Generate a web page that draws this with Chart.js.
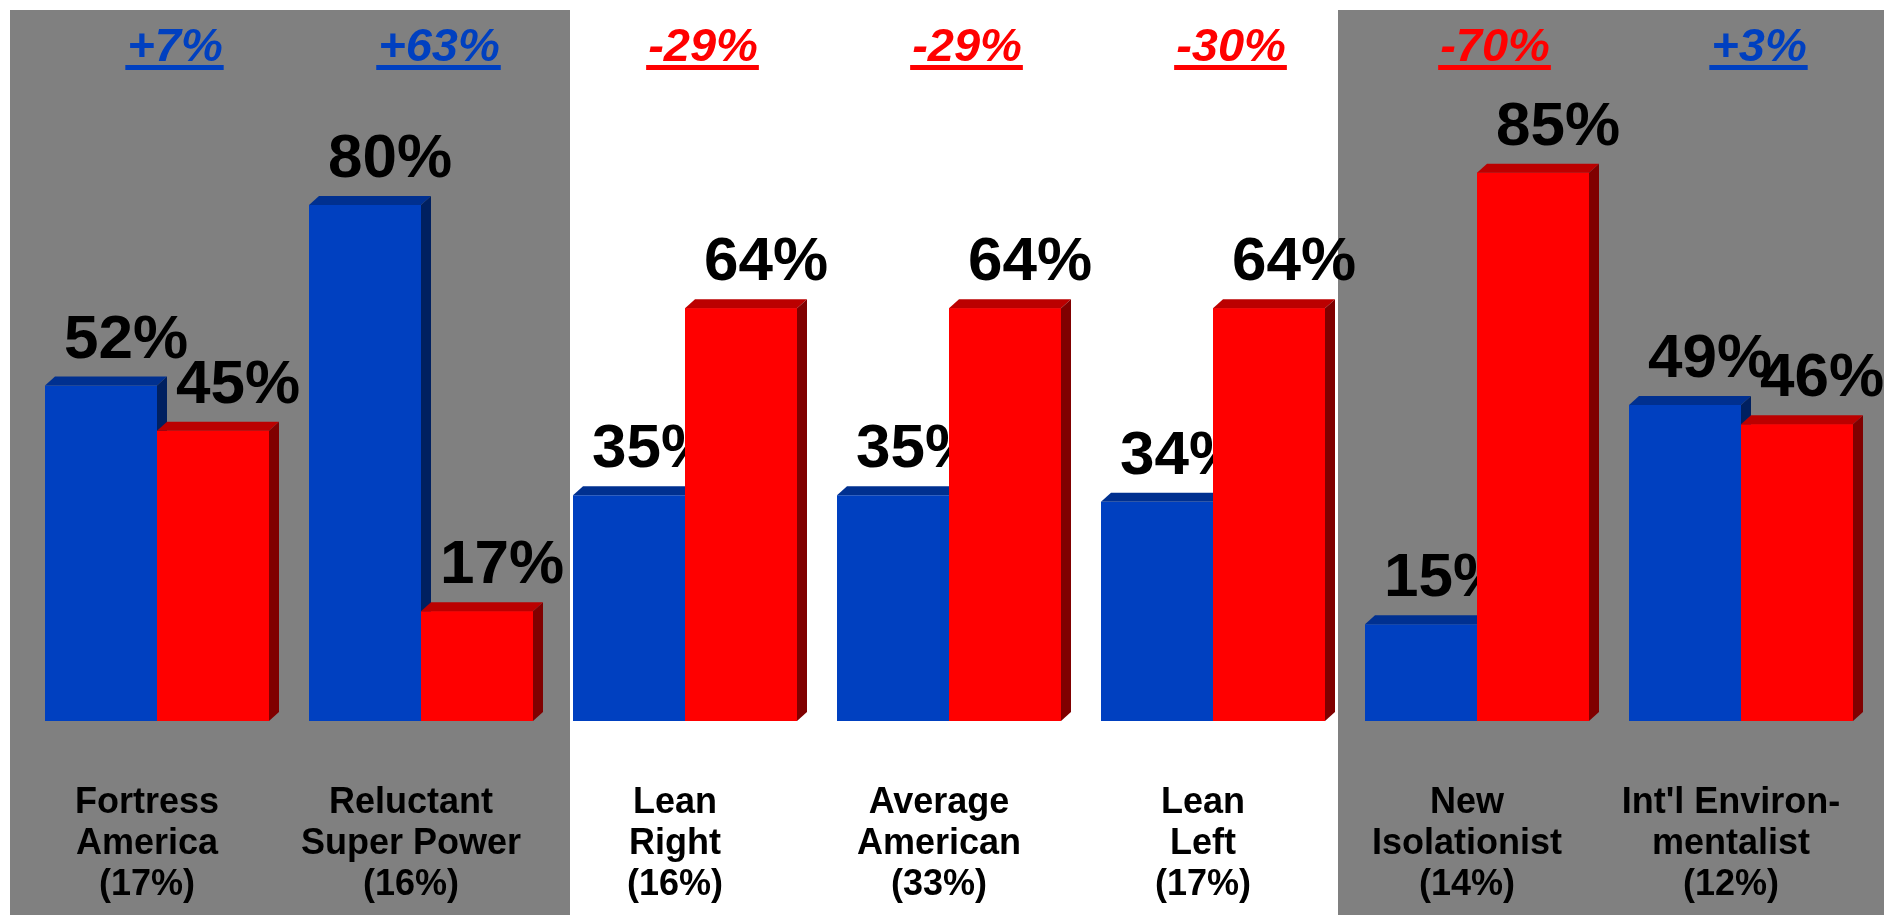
<!DOCTYPE html>
<html>
<head>
<meta charset="utf-8">
<script src="https://cdn.jsdelivr.net/npm/chart.js@4/dist/chart.umd.min.js"></script>
<style>
  html, body { margin: 0; padding: 0; background: #fff; }
  #wrap { width: 1884px; height: 915px; position: relative; }
</style>
</head>
<body>
<div id="wrap"><canvas id="barChart"></canvas></div>
<script>
// segments, with their share of the public in brackets
const groupLabels = [
  ['Fortress', 'America', '(17%)'],
  ['Reluctant', 'Super Power', '(16%)'],
  ['Lean', 'Right', '(16%)'],
  ['Average', 'American', '(33%)'],
  ['Lean', 'Left', '(17%)'],
  ['New', 'Isolationist', '(14%)'],
  ["Int'l Environ-", 'mentalist', '(12%)']
];
const blueValues = [52, 80, 35, 35, 34, 15, 49];
const redValues = [45, 17, 64, 64, 64, 85, 46];
const netChange = ['+7%', '+63%', '-29%', '-29%', '-30%', '-70%', '+3%'];

const FONT = 'Arial, "Liberation Sans", sans-serif';
const shades = [
  { front: '#0040C0', top: '#003090', side: '#002060' },
  { front: '#FF0000', top: '#BB0000', side: '#800000' }
];
const dx = 10, dy = 9;

// gray panels behind the outer groups
const panels = {
  id: 'panels',
  beforeDraw: (chart) => {
    let ctx = chart.ctx;
    let blue = chart.getDatasetMeta(0).data;
    let red = chart.getDatasetMeta(1).data;
    let leftEnd = blue[2].x - blue[2].width / 2 - 3;
    let rightStart = red[4].x + red[4].width / 2 + dx + 3;
    ctx.save();
    ctx.fillStyle = '#808080';
    ctx.fillRect(10, 10, leftEnd - 10, chart.height - 10);
    ctx.fillRect(rightStart, 10, chart.width - rightStart, chart.height - 10);
    ctx.restore();
  }
};

const drawFaces = (ctx, bar, c) => {
  let l = bar.x - bar.width / 2, r = bar.x + bar.width / 2, t = bar.y, b = bar.base;
  ctx.fillStyle = c.top;
  ctx.beginPath();
  ctx.moveTo(l, t); ctx.lineTo(l + dx, t - dy); ctx.lineTo(r + dx, t - dy); ctx.lineTo(r, t);
  ctx.closePath(); ctx.fill();
  ctx.fillStyle = c.side;
  ctx.beginPath();
  ctx.moveTo(r, t); ctx.lineTo(r + dx, t - dy); ctx.lineTo(r + dx, b - dy); ctx.lineTo(r, b);
  ctx.closePath(); ctx.fill();
};

const drawValue = (ctx, bar, v) => {
  ctx.fillStyle = '#000';
  ctx.font = 'bold 62px ' + FONT;
  ctx.textAlign = 'center';
  ctx.textBaseline = 'alphabetic';
  ctx.fillText(v + '%', bar.x + 25, bar.y - 28);
};

// fake 3d faces + value labels; red bars are drawn again on top so they cover the blue labels
const bars3d = {
  id: 'bars3d',
  afterDatasetsDraw: (chart) => {
    let ctx = chart.ctx;
    let blue = chart.getDatasetMeta(0).data;
    let red = chart.getDatasetMeta(1).data;
    ctx.save();
    blue.forEach((bar, i) => {
      drawFaces(ctx, bar, shades[0]);
      drawValue(ctx, bar, blueValues[i]);
    });
    red.forEach((bar, i) => {
      bar.draw(ctx);
      drawFaces(ctx, bar, shades[1]);
      drawValue(ctx, bar, redValues[i]);
    });
    ctx.restore();
  }
};

// underlined net change above each group
const changeLabels = {
  id: 'changeLabels',
  afterDraw: (chart) => {
    let ctx = chart.ctx;
    let x = chart.scales.x;
    ctx.save();
    ctx.font = 'italic bold 47px ' + FONT;
    ctx.textAlign = 'center';
    ctx.textBaseline = 'alphabetic';
    netChange.forEach((txt, i) => {
      let cx = x.getPixelForValue(i) + 18;
      ctx.fillStyle = txt[0] === '-' ? '#FF0000' : '#0040C0';
      ctx.fillText(txt, cx, 61);
      let w = ctx.measureText(txt).width;
      ctx.fillRect(cx - w / 2 - 2, 65, w + 3, 5);
    });
    ctx.restore();
  }
};

let ctx = document.getElementById('barChart').getContext('2d');
let chart = new Chart(ctx, {
  type: 'bar',
  data: {
    labels: groupLabels,
    datasets: [
      { label: 'blue', data: blueValues, backgroundColor: shades[0].front, borderWidth: 0 },
      { label: 'red', data: redValues, backgroundColor: shades[1].front, borderWidth: 0 }
    ]
  },
  options: {
    responsive: true,
    maintainAspectRatio: false,
    animation: false,
    events: [],
    layout: { padding: { top: 76, left: 25, right: 11, bottom: 0 } },
    datasets: { bar: { categoryPercentage: 224 / 264, barPercentage: 1 } },
    plugins: { legend: { display: false }, tooltip: { enabled: false } },
    scales: {
      y: { display: false, min: 0, max: 100 },
      x: {
        grid: { display: false, drawTicks: true, tickLength: 62 },
        border: { display: false },
        ticks: {
          color: '#000',
          padding: 0,
          labelOffset: -10,
          autoSkip: false,
          maxRotation: 0,
          minRotation: 0,
          font: { family: FONT, size: 36, weight: 'bold', lineHeight: 41 / 36 }
        },
        afterFit: (scale) => { scale.height = 194; }
      }
    }
  },
  plugins: [panels, bars3d, changeLabels]
});
</script>
</body>
</html>
